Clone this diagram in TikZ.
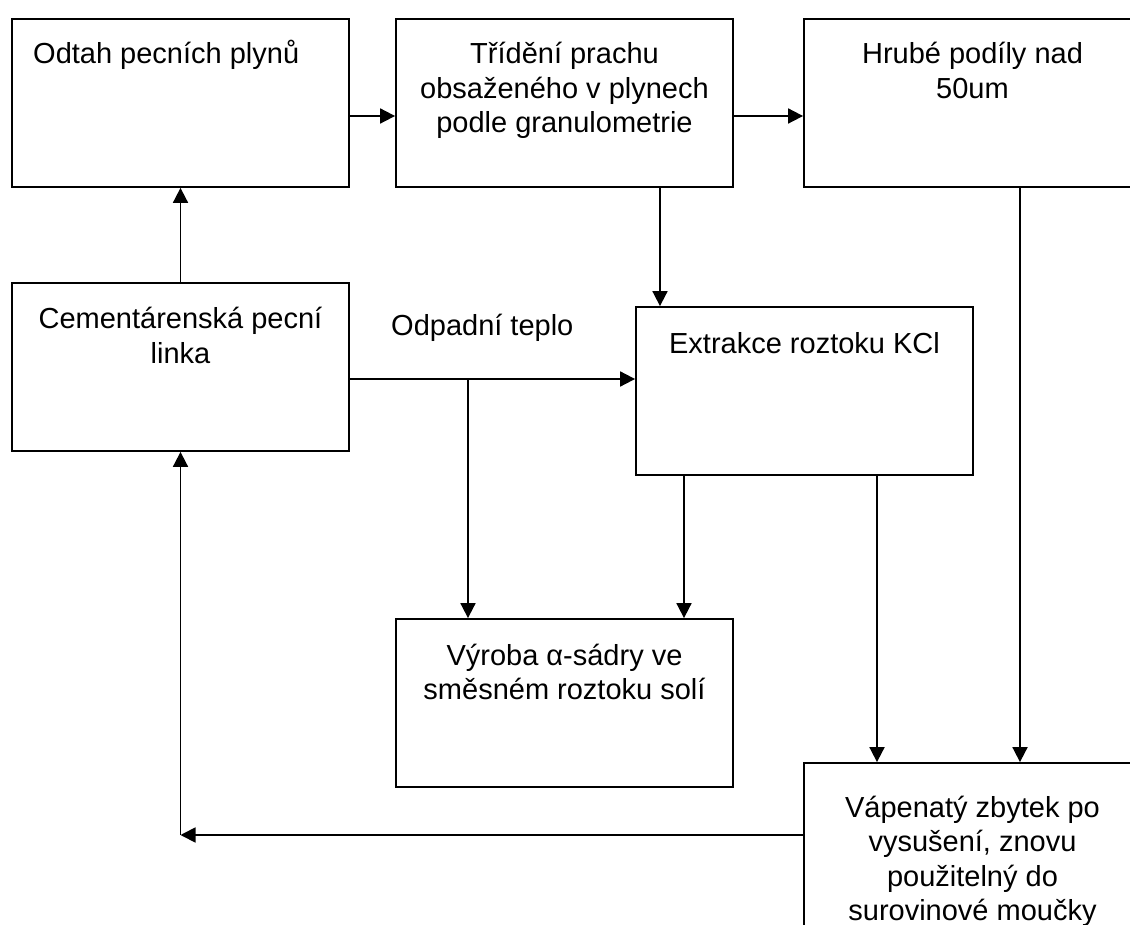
\documentclass[tikz,border=0pt]{standalone}
\usepackage{fontspec}
\setmainfont{Liberation Sans}
\usetikzlibrary{arrows.meta}
\newcommand\mlines[1]{\begin{tabular}[t]{@{}c@{}}#1\end{tabular}}
\tikzset{
  box/.style={draw, line width=1.8pt, minimum width=337pt, minimum height=168pt, inner sep=0pt, anchor=center},
  txt/.style={font=\fontsize{29}{34.5}\selectfont, inner sep=0pt},
  arr/.style={line width=1.8pt, -{Triangle[length=15pt,width=15pt]}},
  ln/.style={line width=1.8pt}
}
\begin{document}
\begin{tikzpicture}[x=1pt,y=-1pt]
\useasboundingbox (0,0) rectangle (1130,925);
\fill[white] (0,0) rectangle (1130,925);
\clip (0,0) rectangle (1130,925);
% boxes
\node[box] (b1) at (180.5,103) {};
\node[box] (b2) at (564.5,103) {};
\node[box] (b3) at (972.5,103) {};
\node[box] (b4) at (180.5,367) {};
\node[box] (b5) at (804.5,391) {};
\node[box] (b6) at (564.5,703) {};
\node[box] (b7) at (972.5,847) {};
% texts
\node[txt, anchor=base west] (t1) at (33,64) {Odtah pecních plynů};
\node[txt, anchor=base] (t2) at (564.5,64) {\mlines{Třídění prachu\\obsaženého v plynech\\podle granulometrie}};
\node[txt, anchor=base] (t3) at (972.5,64) {\mlines{Hrubé podíly nad\\50um}};
\node[txt, anchor=base] (t4) at (180.5,329) {\mlines{Cementárenská pecní\\linka}};
\node[txt, anchor=base] (t5) at (804.5,353) {Extrakce roztoku KCl};
\node[txt, anchor=base] (t6) at (564.5,665) {\mlines{Výroba α-sádry ve\\směsném roztoku solí}};
\node[txt, anchor=base] (t7) at (972.5,817) {\mlines{Vápenatý zbytek po\\vysušení, znovu\\použitelný do\\surovinové moučky}};
\node[txt, anchor=base west] (lab) at (391,336) {Odpadní teplo};
% helper coordinates
\coordinate (r1) at (0,116);
\coordinate (x25) at (660,0);
\coordinate (j) at (468,379);
\coordinate (x56) at (684,0);
\coordinate (x57) at (877,0);
\coordinate (x37) at (1020,0);
\coordinate (c) at (180.5,835);
% connectors
\draw[arr] (b4.north) -- (b1.south);
\draw[arr] (b1.east |- r1) -- (b2.west |- r1);
\draw[arr] (b2.east |- r1) -- (b3.west |- r1);
\draw[arr] (x25 |- b2.south) -- (x25 |- b5.north);
\draw[arr] (b4.east |- j) -- (b5.west |- j);
\draw[arr] (j) -- (j |- b6.north);
\draw[arr] (x56 |- b5.south) -- (x56 |- b6.north);
\draw[arr] (x57 |- b5.south) -- (x57 |- b7.north);
\draw[arr] (x37 |- b3.south) -- (x37 |- b7.north);
\draw[arr] (b7.west |- c) -- (c);
\draw[arr] (c) -- (b4.south);
\end{tikzpicture}
\end{document}
